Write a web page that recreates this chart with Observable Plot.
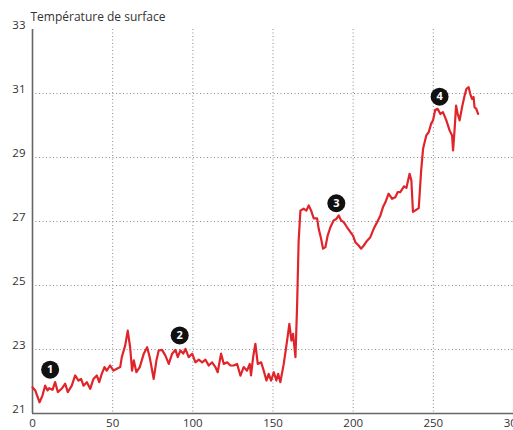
<!DOCTYPE html>
<html>
<head>
<meta charset="utf-8">
<script src="https://cdn.jsdelivr.net/npm/d3@7"></script>
<script src="https://cdn.jsdelivr.net/npm/@observablehq/plot@0.6"></script>
<style>
  html, body { margin: 0; padding: 0; background: #fff; overflow: hidden; }
  #chart svg { display: block; }
</style>
</head>
<body>
<div id="chart"></div>
<script>
const title = "Température de surface";
const xs = [0,1.7,4.4,6.2,7.9,9.4,10.4,12.5,14.1,15.8,18.3,20.4,22,24.5,26.6,28.7,30.3,31.8,33.9,36,38,40.1,41.6,43.2,44.9,46.3,48.4,50.5,52.6,54.7,55.7,57.8,59.4,60.9,62.1,63.2,64.8,66.9,69.4,71.5,73.1,75.6,77.3,78.7,80.8,82.9,85,87.1,89.2,90.6,92.3,94,95.4,97.4,99.6,101.6,103.7,105.8,107.9,109.9,112,114.1,115.5,117.6,119.3,121.4,123.4,125.5,127.6,129.7,131.7,133.8,135.5,136.3,137.6,139,140.5,142.6,144.2,145.9,147.3,148.8,150.5,152.1,153.2,154.6,156.7,158.8,160.2,161.5,162.5,164,165,166,167.1,169.1,170.8,172.3,173.8,175.4,177.5,178.5,180,181.2,182.7,184.1,185.8,187.8,189.5,191,192.5,194.1,196.2,198.3,199.9,201.4,203.4,204.9,206.6,208.7,210.7,212.8,214.9,217,218.6,220.1,222.1,224.3,226.3,227.8,229.4,231.7,233.2,235.2,236.3,237.3,238.8,240.9,242.4,243.6,245.6,247.1,248.6,249.8,251.2,252.7,254.4,256,258.1,260.2,261.7,262.3,263.3,264.2,265.2,266.4,267.9,269.3,270.6,272,273,274.1,275.1,275.7,276.8,277.9];
const temps = [21.82,21.72,21.35,21.56,21.87,21.72,21.79,21.74,21.98,21.67,21.78,21.93,21.67,21.87,22.19,22.03,22.08,21.87,21.98,21.77,22.08,22.19,21.98,22.24,22.45,22.34,22.5,22.34,22.4,22.45,22.76,23.12,23.59,23.07,22.34,22.66,22.29,22.45,22.87,23.07,22.76,22.08,22.66,22.97,22.99,22.81,22.55,22.87,22.99,22.76,22.97,22.87,23.02,22.76,22.87,22.6,22.68,22.6,22.68,22.5,22.6,22.45,22.29,22.87,22.55,22.6,22.5,22.5,22.55,22.18,22.45,22.34,22.55,22.19,22.76,23.18,22.55,22.6,22.34,22.03,22.24,22.03,22.29,22.03,22.24,21.98,22.55,23.28,23.8,23.28,23.49,22.76,24.32,26.4,27.34,27.4,27.34,27.5,27.34,27.1,27.1,26.77,26.46,26.15,26.2,26.56,26.82,27.03,27.08,27.19,27.03,26.98,26.82,26.67,26.56,26.35,26.25,26.15,26.25,26.4,26.51,26.77,26.98,27.19,27.45,27.6,27.87,27.71,27.76,27.92,27.92,28.1,28.05,28.49,28.28,27.3,27.35,27.42,28.59,29.27,29.69,29.79,30.05,30.16,30.49,30.52,30.36,30.42,30.16,29.84,29.69,29.22,29.9,30.62,30.36,30.16,30.57,30.89,31.14,31.2,30.99,30.83,30.89,30.57,30.52,30.36];
const xTicks = [0,50,100,150,200,250,300];
const yTicks = [21,23,25,27,29,31,33];
const xGrid = [50,100,150,200,250];
const yGrid = [23,25,27,29,31];
const markerX = [11,91.8,189.5,253.9];
const markerY = [22.37,23.44,27.57,30.9];
const markerLabel = ["1","2","3","4"];

const series = xs.map((x, i) => ({x, t: temps[i]}));
const markers = markerX.map((x, i) => ({x, y: markerY[i], label: markerLabel[i]}));

const chart = Plot.plot({
  width: 513,
  height: 430,
  marginLeft: 32,
  marginRight: 0,
  marginTop: 29,
  marginBottom: 17,
  style: {fontFamily: "'Open Sans', sans-serif", fontSize: "12px", color: "#333", background: "#fff", overflow: "visible"},
  x: {domain: [0, 300]},
  y: {domain: [21, 33]},
  marks: [
    Plot.ruleY(yGrid, {stroke: "#8a8a8a", strokeWidth: 1, strokeDasharray: "1,2.5"}),
    Plot.ruleX(xGrid, {stroke: "#8a8a8a", strokeWidth: 1, strokeDasharray: "1,2.5"}),
    Plot.axisX({ticks: xTicks, tickSize: 0, tickPadding: 5, label: null, fontSize: 11.5}),
    Plot.axisY({ticks: yTicks, tickSize: 0, tickPadding: 7, dy: -4, label: null, fontSize: 11.5}),
    Plot.ruleX([0], {stroke: "#666", strokeWidth: 1.6}),
    Plot.ruleY([21], {stroke: "#666", strokeWidth: 1.6}),
    Plot.line(series, {x: "x", y: "t", stroke: "#e0242a", strokeWidth: 2.2, curve: "linear"}),
    Plot.dot(markers, {x: "x", y: "y", r: 9, fill: "#111", stroke: "none"}),
    Plot.text(markers, {x: "x", y: "y", text: "label", fill: "#fff", fontWeight: "bold", fontSize: 11}),
    Plot.text([title], {frameAnchor: "top-left", textAnchor: "start", lineAnchor: "bottom", dx: -2, dy: -8.5, fontSize: 12, fill: "#333"})
  ]
});
document.getElementById("chart").appendChild(chart);
</script>
</body>
</html>
